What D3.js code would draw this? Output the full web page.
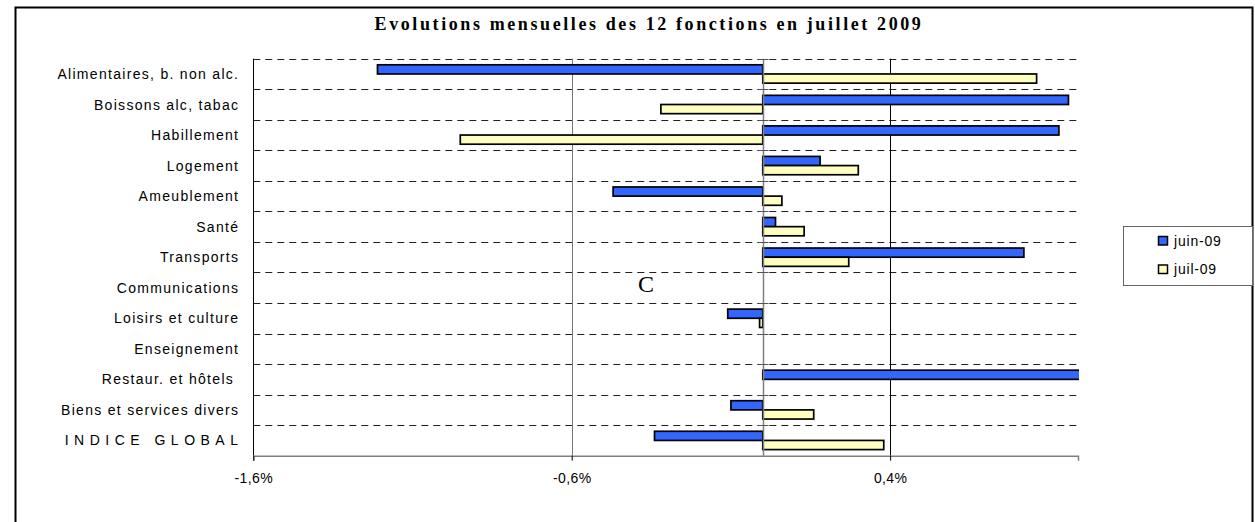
<!DOCTYPE html>
<html>
<head>
<meta charset="utf-8">
<script src="https://cdn.jsdelivr.net/npm/d3@7"></script>
<style>
  html, body { margin: 0; padding: 0; background: #fff; }
  svg { display: block; }
  text { white-space: pre; }
</style>
</head>
<body>
<svg id="chart" width="1255" height="522"></svg>
<script>
// ---- data ----
const categories = [
  "Alimentaires, b. non alc.",
  "Boissons alc, tabac",
  "Habillement",
  "Logement",
  "Ameublement",
  "Santé",
  "Transports",
  "Communications",
  "Loisirs et culture",
  "Enseignement",
  "Restaur. et hôtels ",
  "Biens et services divers",
  "INDICE GLOBAL"
];
const seriesNames = ["juin-09", "juil-09"];
const juin09 = [-1.21, 0.96, 0.93, 0.18, -0.47, 0.04, 0.82, null, -0.11, null, 1.10, -0.10, -0.34];
const juil09 = [0.86, -0.32, -0.95, 0.30, 0.06, 0.13, 0.27, null, -0.01, null, null, 0.16, 0.38];
const tickValues = [-1.6, -0.6, 0.4];
const tickLabels = ["-1,6%", "-0,6%", "0,4%"];
const titleText = "Evolutions mensuelles des 12 fonctions en juillet 2009";

// ---- layout ----
const svg = d3.select("#chart");
const plot = { left: 253.3, right: 1078, top: 58.7, bottom: 455.7 };
const colors = ["#3366FF", "#FFFFC0"];

const x = d3.scaleLinear().domain([-1.6, 0.99]).range([plot.left, plot.right]);
const y = d3.scaleBand().domain(categories).range([plot.top, plot.bottom]).padding(0);
const bw = y.bandwidth();
const barH = bw * 0.3;

// outer frame
svg.append("rect")
  .attr("x", 15.5).attr("y", 7.5).attr("width", 1237).attr("height", 540)
  .attr("fill", "none").attr("stroke", "#000").attr("stroke-width", 2);

// title
svg.append("text")
  .attr("x", 649).attr("y", 30)
  .attr("text-anchor", "middle")
  .attr("font-family", "'Liberation Serif', 'Times New Roman', serif")
  .attr("font-weight", "bold")
  .attr("font-size", 18)
  .attr("letter-spacing", 2.6)
  .text(titleText);

// horizontal dashed gridlines at category boundaries
const boundaries = categories.map(c => y(c));
svg.append("g").selectAll("line").data(boundaries).join("line")
  .attr("x1", plot.left).attr("x2", plot.right)
  .attr("y1", d => Math.round(d) + 0.5).attr("y2", d => Math.round(d) + 0.5)
  .attr("stroke", "#222").attr("stroke-width", 1)
  .attr("stroke-dasharray", "7,5");

// vertical gridlines
svg.append("g").selectAll("line").data(tickValues).join("line")
  .attr("x1", d => Math.round(x(d)) + 0.5).attr("x2", d => Math.round(x(d)) + 0.5)
  .attr("y1", plot.top).attr("y2", plot.bottom)
  .attr("stroke", (d, i) => i === 1 ? "#777" : "#000").attr("stroke-width", 1);

// bars
svg.append("clipPath").attr("id", "plotclip").append("rect")
  .attr("x", plot.left).attr("y", plot.top - 2)
  .attr("width", plot.right - plot.left + 1).attr("height", plot.bottom - plot.top + 4);

const series = [juin09, juil09];
const barsG = svg.append("g").attr("clip-path", "url(#plotclip)");
series.forEach((vals, si) => {
  const data = categories.map((c, i) => ({ c, v: vals[i] })).filter(d => d.v !== null);
  barsG.append("g").selectAll("rect").data(data).join("rect")
    .attr("x", d => Math.min(x(0), x(d.v)))
    .attr("width", d => Math.abs(x(d.v) - x(0)))
    .attr("y", d => y(d.c) + bw * 0.2 + si * barH)
    .attr("height", barH)
    .attr("fill", colors[si])
    .attr("stroke", "#000").attr("stroke-width", 1.7);
});

// category axis at zero
const x0 = Math.round(x(0)) + 0.5;
svg.append("line")
  .attr("x1", x0).attr("x2", x0).attr("y1", plot.top).attr("y2", plot.bottom)
  .attr("stroke", "#808080").attr("stroke-width", 1.5);
svg.append("g").selectAll("line").data(boundaries.concat([plot.bottom])).join("line")
  .attr("x1", x0 - 5).attr("x2", x0 + 5)
  .attr("y1", d => Math.round(d) + 0.5).attr("y2", d => Math.round(d) + 0.5)
  .attr("stroke", "#555").attr("stroke-width", 1);

// value axis (bottom)
const xAxis = d3.axisBottom(x)
  .tickValues(tickValues)
  .tickSize(5)
  .tickFormat((d, i) => tickLabels[i]);
const ax = svg.append("g")
  .attr("transform", `translate(0,${plot.bottom})`)
  .call(xAxis);
ax.select(".domain").attr("stroke", "#808080").attr("stroke-width", 1.5);
ax.selectAll(".tick line").attr("stroke", "#000");
ax.selectAll(".tick text")
  .attr("y", 27.5).attr("dy", 0)
  .attr("font-family", "'Liberation Sans', Arial, sans-serif")
  .attr("font-size", 14)
  .attr("letter-spacing", 0.4)
  .attr("fill", "#000");

// category labels
svg.append("g").selectAll("text").data(categories).join("text")
  .attr("x", 238)
  .attr("dx", d => d === "INDICE GLOBAL" ? 5.5 : 1.3)
  .attr("y", d => y(d) + bw / 2 + 5)
  .attr("text-anchor", "end")
  .attr("font-family", "'Liberation Sans', Arial, sans-serif")
  .attr("font-size", 14)
  .attr("letter-spacing", d => d === "INDICE GLOBAL" ? 5.5 : 1.3)
  .attr("fill", "#000")
  .text(d => d);

// stray "C"
svg.append("text")
  .attr("x", 638).attr("y", 291.5)
  .attr("font-family", "'Liberation Serif', 'Times New Roman', serif")
  .attr("font-size", 24)
  .attr("fill", "#000")
  .text("C");

// legend
const lg = svg.append("g");
lg.append("rect")
  .attr("x", 1123.5).attr("y", 226.5).attr("width", 129).attr("height", 59)
  .attr("fill", "#fff").attr("stroke", "#666").attr("stroke-width", 1);
seriesNames.forEach((name, i) => {
  lg.append("rect")
    .attr("x", 1158.5).attr("y", 236.5 + i * 28.5).attr("width", 9).attr("height", 8.5)
    .attr("fill", colors[i]).attr("stroke", "#000").attr("stroke-width", 1.5);
  lg.append("text")
    .attr("x", 1174).attr("y", 245.5 + i * 28.5)
    .attr("font-family", "'Liberation Sans', Arial, sans-serif")
    .attr("font-size", 14)
    .attr("letter-spacing", 0.8)
    .attr("fill", "#000")
    .text(name);
});
</script>
</body>
</html>
